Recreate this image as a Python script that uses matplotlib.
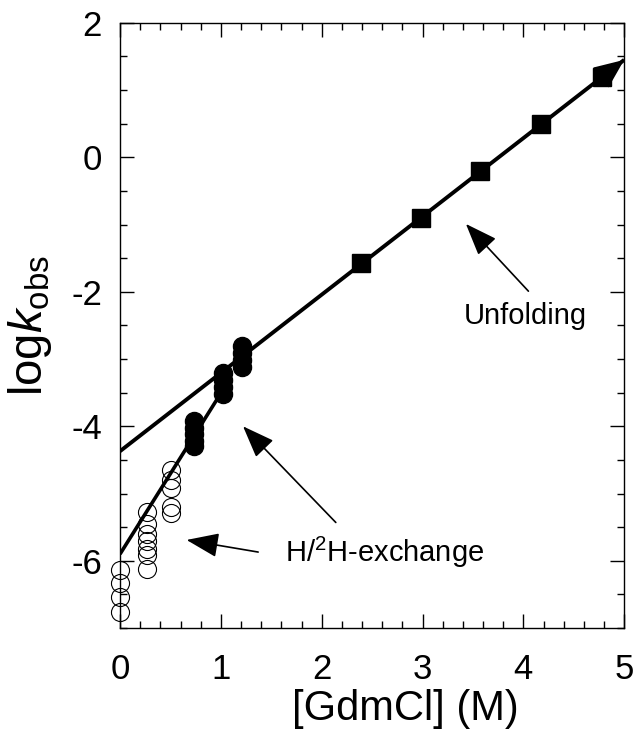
import numpy as np
import matplotlib
matplotlib.use('Agg')
import matplotlib.pyplot as plt
from matplotlib.ticker import MultipleLocator

plt.rcParams['font.family'] = ['Liberation Sans', 'DejaVu Sans']
plt.rcParams['mathtext.fontset'] = 'custom'
plt.rcParams['mathtext.rm'] = 'Liberation Sans'
plt.rcParams['mathtext.it'] = 'Liberation Sans:italic'
plt.rcParams['axes.unicode_minus'] = False

# unfolding kinetics (filled squares)
unf_x = [2.39, 2.98, 3.57, 4.17, 4.78]
unf_y = [-1.57, -0.90, -0.20, 0.50, 1.20]

# fast-exchange points (filled circles), stacked at each denaturant conc.
fill_x = [0.73] * 5 + [1.02] * 4 + [1.21] * 4
fill_y = [-3.92, -4.02, -4.12, -4.22, -4.30,
          -3.21, -3.31, -3.41, -3.52,
          -2.81, -2.91, -3.01, -3.12]

# H/2H exchange (open circles)
open_x = [0.0] * 4 + [0.27] * 7 + [0.51] * 5
open_y = [-6.14, -6.33, -6.54, -6.76,
          -5.28, -5.45, -5.60, -5.70, -5.82, -5.92, -6.12,
          -4.65, -4.80, -4.92, -5.20, -5.29]

# fitted lines
unf_line_x = [0.0, 5.0]
unf_line_y = [-4.37, 1.45]
exch_line_x = [0.0, 1.02]
exch_line_y = [-5.90, -3.46]

fig = plt.figure(figsize=(6.35, 7.38), dpi=100)
ax = fig.add_axes([0.189, 0.149, 0.794, 0.820])

ax.plot(unf_line_x, unf_line_y, color='black', lw=2.8, solid_capstyle='butt', zorder=2)
ax.plot(exch_line_x, exch_line_y, color='black', lw=2.6, solid_capstyle='butt', zorder=2)

ax.plot(open_x, open_y, 'o', ms=13, mfc='none', mec='black', mew=0.8,
        zorder=3, clip_on=False)
ax.plot(fill_x, fill_y, 'o', ms=13, color='black', zorder=4)
ax.plot(unf_x, unf_y, 's', ms=13.5, color='black', zorder=4)

# wedge at the end of the unfolding line
ax.annotate('', xy=(unf_line_x[1], unf_line_y[1]), xytext=(unf_x[-1], unf_y[-1]),
            arrowprops=dict(arrowstyle='-|>,head_length=0.7,head_width=0.3',
                            mutation_scale=30, color='black', lw=0,
                            shrinkA=0, shrinkB=0), zorder=5)

arr = dict(arrowstyle='-|>,head_length=1.0,head_width=0.38', mutation_scale=20,
           color='black', lw=1.2, shrinkA=0, shrinkB=0)
ax.annotate('', xy=(3.43, -0.99), xytext=(4.05, -1.99), arrowprops=arr)
ax.text(4.02, -2.36, 'Unfolding', fontsize=21, ha='center', va='center')

ax.annotate('', xy=(1.22, -4.00), xytext=(2.14, -5.43), arrowprops=arr)
ax.annotate('', xy=(0.66, -5.69), xytext=(1.37, -5.87), arrowprops=arr)
ax.text(1.64, -5.87, r'H/$^{2}$H-exchange', fontsize=21, ha='left', va='center')

ax.set_xlim(0, 5)
ax.set_ylim(-7, 2)
ax.xaxis.set_major_locator(MultipleLocator(1))
ax.xaxis.set_minor_locator(MultipleLocator(0.2))
ax.yaxis.set_major_locator(MultipleLocator(2))
ax.yaxis.set_minor_locator(MultipleLocator(0.5))
ax.tick_params(which='both', direction='in', top=True, right=True, width=1.0)
ax.tick_params(which='major', length=10)
ax.tick_params(which='minor', length=5)
ax.tick_params(axis='x', which='major', pad=18, labelsize=25)
ax.tick_params(axis='y', which='major', pad=13, labelsize=25)
for s in ax.spines.values():
    s.set_linewidth(1.0)

ax.set_xlabel('[GdmCl] (M)', fontsize=30)
ax.set_ylabel(r'log$\mathit{k}_{\mathrm{obs}}$', fontsize=34)
ax.xaxis.set_label_coords(0.565, -0.1)
ax.yaxis.set_label_coords(-0.13, 0.5)

fig.savefig('out.png', dpi=100)
